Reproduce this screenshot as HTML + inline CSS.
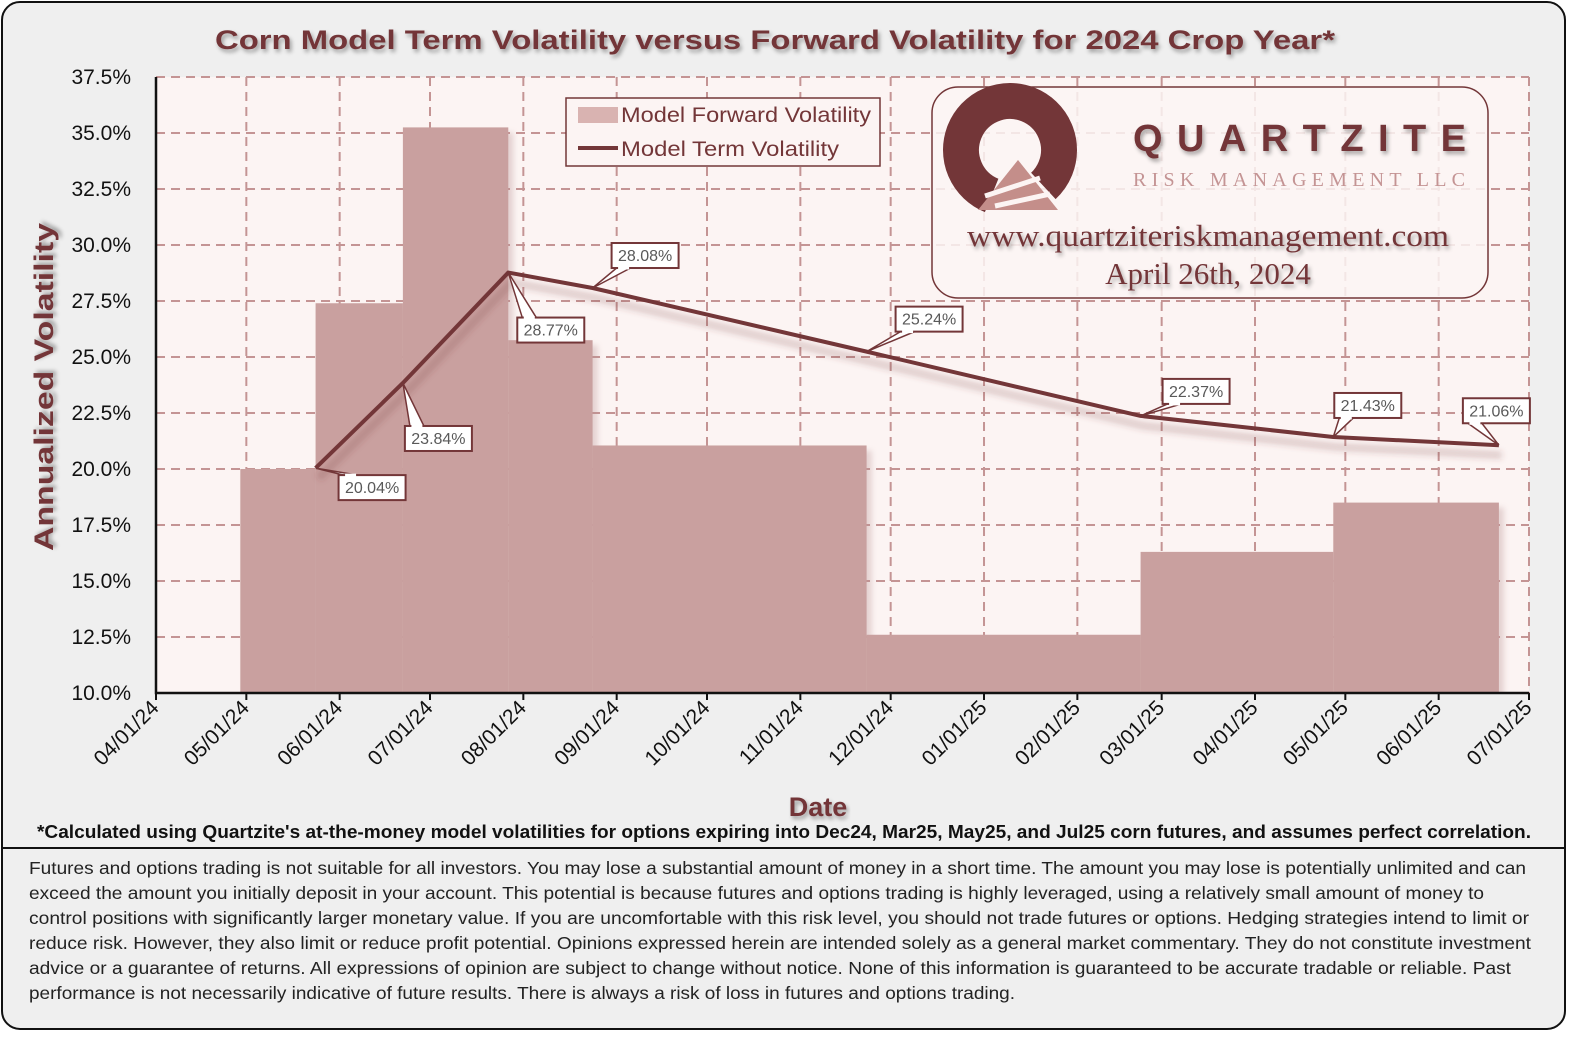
<!DOCTYPE html>
<html><head><meta charset="utf-8"><style>
html,body{margin:0;padding:0;background:#fff;}
svg{display:block;}
text{font-family:"Liberation Sans",sans-serif;}
</style></head><body>
<svg id="chart" width="1579" height="1039" viewBox="0 0 1579 1039" xmlns="http://www.w3.org/2000/svg">
<defs>
<filter id="soft" x="-10%" y="-10%" width="120%" height="120%"><feGaussianBlur stdDeviation="3"/></filter>
<filter id="tshadow" x="-5%" y="-30%" width="110%" height="160%"><feGaussianBlur in="SourceAlpha" stdDeviation="2"/><feOffset dx="2" dy="3"/><feComponentTransfer><feFuncA type="linear" slope="0.35"/></feComponentTransfer><feMerge><feMergeNode/><feMergeNode in="SourceGraphic"/></feMerge></filter>
<clipPath id="plotclip"><rect x="156" y="77" width="1373" height="616"/></clipPath>
</defs>
<rect x="2" y="2" width="1563" height="1027" rx="18" fill="#efefef" stroke="#111" stroke-width="2"/>
<line x1="3" y1="848" x2="1564" y2="848" stroke="#111" stroke-width="2"/>
<text x="775" y="49" text-anchor="middle" font-size="27" font-weight="bold" fill="#733638" filter="url(#tshadow)" textLength="1120" lengthAdjust="spacingAndGlyphs">Corn Model Term Volatility versus Forward Volatility for 2024 Crop Year*</text>
<rect x="156" y="77" width="1373" height="616" fill="#fcf4f3"/>
<g id="grid"></g>
<g id="bars" clip-path="url(#plotclip)"></g>
<g id="logo">
<rect x="932" y="87" width="556" height="211" rx="26" fill="#fcf4f3" fill-opacity="0.85" stroke="#733638" stroke-width="1.5"/>
<circle cx="1010" cy="150" r="49" fill="none" stroke="#733638" stroke-width="36" stroke-dasharray="252 56" transform="rotate(112 1010 150)"/>
<path d="M978,210 L1018,160 L1058,210 Z" fill="#c48e8a"/>
<path d="M985,196 L1040,178 M995,206 L1050,194" stroke="#fcf4f3" stroke-width="5"/>
<text x="1133" y="151" font-size="38" font-weight="bold" fill="#733638" textLength="333" lengthAdjust="spacing" filter="url(#tshadow)">QUARTZITE</text>
<text x="1133" y="186" font-size="20" fill="#c49494" textLength="332" lengthAdjust="spacing" style="font-family:'Liberation Serif',serif">RISK MANAGEMENT LLC</text>
<text x="1208" y="246" text-anchor="middle" font-size="31" fill="#733638" textLength="482" lengthAdjust="spacingAndGlyphs" style="font-family:'Liberation Serif',serif" filter="url(#tshadow)">www.quartziteriskmanagement.com</text>
<text x="1208" y="284" text-anchor="middle" font-size="31" fill="#733638" style="font-family:'Liberation Serif',serif" filter="url(#tshadow)">April 26th, 2024</text>
</g>
<g id="line"></g>
<g id="labels"></g>
<g id="axes"></g>
<g>
<rect x="566" y="98" width="314" height="68" fill="#fcf4f3" stroke="#733638" stroke-width="1.5"/>
<rect x="578" y="107" width="40" height="16" fill="#d9b3b1"/>
<text x="621" y="122" font-size="21" fill="#733638" textLength="250" lengthAdjust="spacingAndGlyphs">Model Forward Volatility</text>
<line x1="578" y1="148" x2="618" y2="148" stroke="#733638" stroke-width="4"/>
<text x="621" y="156" font-size="21" fill="#733638" textLength="218" lengthAdjust="spacingAndGlyphs">Model Term Volatility</text>
</g>
<text transform="translate(53,387) rotate(-90)" text-anchor="middle" font-size="27" font-weight="bold" fill="#733638" filter="url(#tshadow)" textLength="328" lengthAdjust="spacingAndGlyphs">Annualized Volatility</text>
<text x="818" y="816" text-anchor="middle" font-size="27" font-weight="bold" fill="#733638" filter="url(#tshadow)">Date</text>
<text x="784" y="838" text-anchor="middle" font-size="18" font-weight="bold" fill="#111" textLength="1494" lengthAdjust="spacingAndGlyphs">*Calculated using Quartzite's at-the-money model volatilities for options expiring into Dec24, Mar25, May25, and Jul25 corn futures, and assumes perfect correlation.</text>
<g fill="#222" font-size="17.5">
<text x="29" y="874" textLength="1497" lengthAdjust="spacingAndGlyphs">Futures and options trading is not suitable for all investors. You may lose a substantial amount of money in a short time. The amount you may lose is potentially unlimited and can</text>
<text x="29" y="899" textLength="1455" lengthAdjust="spacingAndGlyphs">exceed the amount you initially deposit in your account. This potential is because futures and options trading is highly leveraged, using a relatively small amount of money to</text>
<text x="29" y="924" textLength="1500" lengthAdjust="spacingAndGlyphs">control positions with significantly larger monetary value. If you are uncomfortable with this risk level, you should not trade futures or options. Hedging strategies intend to limit or</text>
<text x="29" y="949" textLength="1502" lengthAdjust="spacingAndGlyphs">reduce risk. However, they also limit or reduce profit potential. Opinions expressed herein are intended solely as a general market commentary. They do not constitute investment</text>
<text x="29" y="974" textLength="1482" lengthAdjust="spacingAndGlyphs">advice or a guarantee of returns. All expressions of opinion are subject to change without notice. None of this information is guaranteed to be accurate tradable or reliable. Past</text>
<text x="29" y="999" textLength="986" lengthAdjust="spacingAndGlyphs">performance is not necessarily indicative of future results. There is always a risk of loss in futures and options trading.</text>
</g>
</svg>
<script>
const termDates = ["2024-05-24","2024-06-22","2024-07-27","2024-08-24","2024-11-23","2025-02-22","2025-04-27","2025-06-21"];
const termValues = [20.04,23.84,28.77,28.08,25.24,22.37,21.43,21.06];
const fwdStart = "2024-04-29";
const fwdValues = [20.0,27.4,35.25,25.75,21.05,12.6,16.3,18.5];
const yTicks = [10,12.5,15,17.5,20,22.5,25,27.5,30,32.5,35,37.5];
const xTickDates = ["2024-04-01","2024-05-01","2024-06-01","2024-07-01","2024-08-01","2024-09-01","2024-10-01","2024-11-01","2024-12-01","2025-01-01","2025-02-01","2025-03-01","2025-04-01","2025-05-01","2025-06-01","2025-07-01"];
const labelOffsets = [[23,7],[2,43],[9,45],[19,-45],[29,-45],[22,-37],[1,-44],[-36,-47]];

const NS="http://www.w3.org/2000/svg";
const X0=156,X1=1529,Y0=693,Y1=77,YMIN=10,YMAX=37.5;
const D0=Date.UTC(2024,3,1),D1=Date.UTC(2025,6,1);
function dt(s){const p=s.split("-");return Date.UTC(+p[0],+p[1]-1,+p[2]);}
function xs(s){return X0+(dt(s)-D0)/(D1-D0)*(X1-X0);}
function ys(v){return Y0-(v-YMIN)/(YMAX-YMIN)*(Y0-Y1);}
function mk(tag,attrs,parent){const e=document.createElementNS(NS,tag);for(const k in attrs)e.setAttribute(k,attrs[k]);parent.appendChild(e);return e;}
const grid=document.getElementById("grid"),bars=document.getElementById("bars"),line=document.getElementById("line"),labels=document.getElementById("labels"),axes=document.getElementById("axes");

yTicks.forEach((t,i)=>{
  if(i>0){const g=mk("line",{x1:X0,x2:X1,y1:ys(t),y2:ys(t),stroke:"#c49494","stroke-width":2,"stroke-dasharray":"9,6"},grid);
  
  }
  const tx=mk("text",{x:131,y:ys(t)+7,"text-anchor":"end","font-size":21,fill:"#111"},axes);
  tx.textContent=t.toFixed(1)+"%";
  
  
});
xTickDates.forEach((d,i)=>{
  const x=xs(d);
  if(i>0){const g=mk("line",{x1:x,x2:x,y1:Y1,y2:Y0,stroke:"#c49494","stroke-width":2,"stroke-dasharray":"9,6"},grid);
  
  }
  mk("line",{x1:x,x2:x,y1:Y0,y2:Y0+7,stroke:"#111","stroke-width":2},axes);
  const p=d.split("-");
  const tx=mk("text",{transform:`translate(${x+4},${Y0+16}) rotate(-45)`,"text-anchor":"end","font-size":21,fill:"#111"},axes);
  tx.textContent=p[1]+"/"+p[2]+"/"+p[0].slice(2);
  
  
});
const ax=mk("path",{d:`M${X0},${Y1} V${Y0} H${X1}`,fill:"none",stroke:"#111","stroke-width":2.5},axes);



const bg=mk("g",{},bars);
const bgShadow=mk("g",{filter:"url(#soft)",transform:"translate(5,5)",opacity:0.35},bg);
const bgMain=mk("g",{},bg);
fwdValues.forEach((v,i)=>{
  const xa=i===0?xs(fwdStart):xs(termDates[i-1]);
  const xb=xs(termDates[i]);
  mk("rect",{x:xa,y:ys(v),width:xb-xa,height:Y0-ys(v)+10,fill:"#b89292"},bgShadow);
  const r=mk("rect",{x:xa,y:ys(v),width:xb-xa,height:Y0-ys(v)+10,fill:"#c9a09f"},bgMain);
  
  
});
const pts=termDates.map((d,i)=>xs(d)+","+ys(termValues[i])).join(" ");
mk("polyline",{points:pts,fill:"none",stroke:"#733638","stroke-opacity":0.2,"stroke-width":8,transform:"translate(3,10)",filter:"url(#soft)"},line);
const pl=mk("polyline",{points:pts,fill:"none",stroke:"#733638","stroke-width":4,"stroke-linejoin":"round"},line);


termValues.forEach((v,i)=>{
  const vx=xs(termDates[i]),vy=ys(v);
  const bx=vx+labelOffsets[i][0],by=vy+labelOffsets[i][1],w=67,h=25;
  const g=mk("g",{},labels);
  
  
  let ey,ex1,ex2;
  if(by>vy){ey=by;}else{ey=by+h;}
  if(bx+w<vx+10){ex1=bx+w-20;ex2=bx+w-6;}else{ex1=bx+5;ex2=bx+19;}
  mk("polygon",{points:`${vx},${vy} ${ex1},${ey} ${ex2},${ey}`,fill:"#fff",stroke:"#733638","stroke-width":1.5},g);
  mk("rect",{x:bx,y:by,width:w,height:h,fill:"#fff",stroke:"#733638","stroke-width":2},g);
  mk("line",{x1:ex1+1.5,x2:ex2-1.5,y1:ey,y2:ey,stroke:"#fff","stroke-width":3},g);
  const t=mk("text",{x:bx+w/2,y:by+18,"text-anchor":"middle","font-size":16,fill:"#595959"},g);
  t.textContent=v.toFixed(2)+"%";
});
</script>
</body></html>
